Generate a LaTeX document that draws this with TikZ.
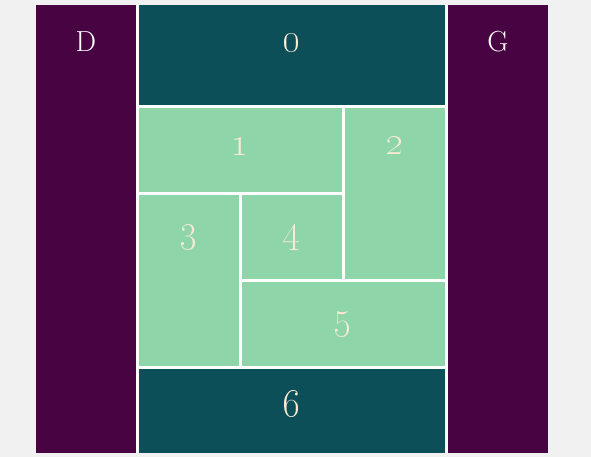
\documentclass[tikz,border=0pt]{standalone}
\definecolor{bgc}{HTML}{F1F1F1}
\definecolor{purp}{HTML}{480442}
\definecolor{teal}{HTML}{0C4F58}
\definecolor{mint}{HTML}{8ED6AA}
\definecolor{cream}{HTML}{FAEBD4}
\newcommand{\dig}[1]{\scalebox{1.6}{\oldstylenums{#1}}}
\begin{document}
\begin{tikzpicture}[x=1pt,y=-1pt,
  lett/.style={text=white,anchor=base,inner sep=0pt,font=\fontsize{29}{30}\selectfont},
  digit/.style={text=cream,anchor=base,inner sep=0pt,font=\fontsize{24.88}{26}\selectfont\bfseries},
  dark/.style={text=cream}]
\useasboundingbox[fill=bgc] (0,0) rectangle (591,457);
% white gaps
\fill[white] (136,5) rectangle (448,453);
% boxes
\fill[purp] (36,5) rectangle (136,453);
\fill[purp] (448,5) rectangle (548,453);
\fill[teal] (139,5) rectangle (445,105);
\fill[teal] (139,369) rectangle (445,453);
\fill[mint] (139,108) rectangle (342,192);
\fill[mint] (345,108) rectangle (445,279);
\fill[mint] (139,195) rectangle (239,366);
\fill[mint] (242,195) rectangle (342,279);
\fill[mint] (242,282) rectangle (445,366);
% labels
\node[lett] (lD) at (86,52) {D};
\node[lett] (lG) at (498,52) {G};
\node[digit,dark] (l0) at (292,52) {\dig{0}};
\node[digit] (l1) at (240,156) {\dig{1}};
\node[digit] (l2) at (395,155) {\dig{2}};
\node[digit] (l3) at (189,242) {\dig{3}};
\node[digit] (l4) at (292,242) {\dig{4}};
\node[digit] (l5) at (343,329) {\dig{5}};
\node[digit,dark] (l6) at (292,416) {\dig{6}};
\end{tikzpicture}
\end{document}
